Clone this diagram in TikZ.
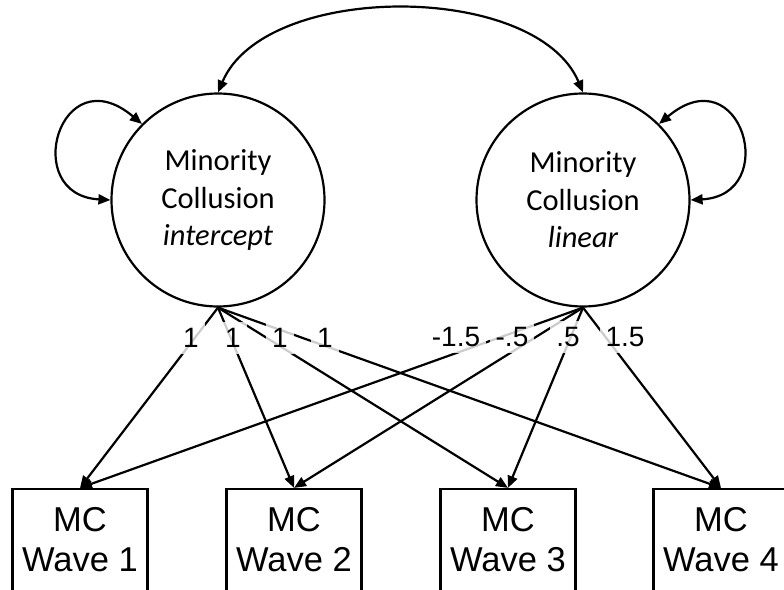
\documentclass[tikz,border=0pt]{standalone}
\usepackage{fontspec}
\setmainfont{Liberation Sans}
\newfontfamily\carlito{Carlito}
\usetikzlibrary{arrows.meta}
\begin{document}
\begin{tikzpicture}[x=1pt,y=-1pt,line width=2.2pt,
  tipend/.style={-{Triangle[length=12pt,width=10pt]}},
  tipboth/.style={{Triangle[length=12pt,width=10pt]}-{Triangle[length=12pt,width=10pt]}},
  latent/.style={draw,circle,minimum size=213pt,inner sep=0pt,align=center,
    font=\carlito\fontsize{30.5}{37.5}\selectfont},
  wbox/.style={draw,rectangle,minimum width=135pt,minimum height=102pt,inner sep=0pt,
    align=center,font=\fontsize{34.5}{40}\selectfont},
  lbl/.style={font=\fontsize{28}{28}\selectfont,fill=white,fill opacity=0.8,
    text opacity=1,inner sep=6pt}]
\clip (0,0) rectangle (784,589);
\fill[white] (0,0) rectangle (784,589);
\node[latent] (lt) at (218,200) {Minority\\Collusion\\\itshape intercept};
\node[latent] (rt) at (583,200) {Minority\\Collusion\\\itshape linear};
\node[wbox] (w1) at (80,540) {MC\\Wave 1};
\node[wbox] (w2) at (294,540) {MC\\Wave 2};
\node[wbox] (w3) at (508,540) {MC\\Wave 3};
\node[wbox] (w4) at (721,540) {MC\\Wave 4};
% covariance
\draw[tipboth] (lt.90) .. controls +(47,-111) and +(-47,-111) .. (rt.90);
% variances
\draw[tipboth] (lt.180) .. controls +(-91,-5) and +(-82,-69) .. (lt.135);
\draw[tipboth] (rt.0) .. controls +(91,-5) and +(82,-69) .. (rt.45);
% loadings
\foreach \w in {w1,w2,w3,w4}{
  \draw[tipend] (lt.south) -- (\w.north);
  \draw[tipend] (rt.south) -- (\w.north);
}
% labels
\node[lbl] (a1) at (191,338) {1};
\node[lbl] (a2) at (233,338) {1};
\node[lbl] (a3) at (280,338) {1};
\node[lbl] (a4) at (325,338) {1};
\node[lbl] (b1) at (456,337) {-1.5};
\node[lbl] (b2) at (512,337) {-.5};
\node[lbl] (b3) at (568,337) {.5};
\node[lbl] (b4) at (625,337) {1.5};
\end{tikzpicture}
\end{document}
